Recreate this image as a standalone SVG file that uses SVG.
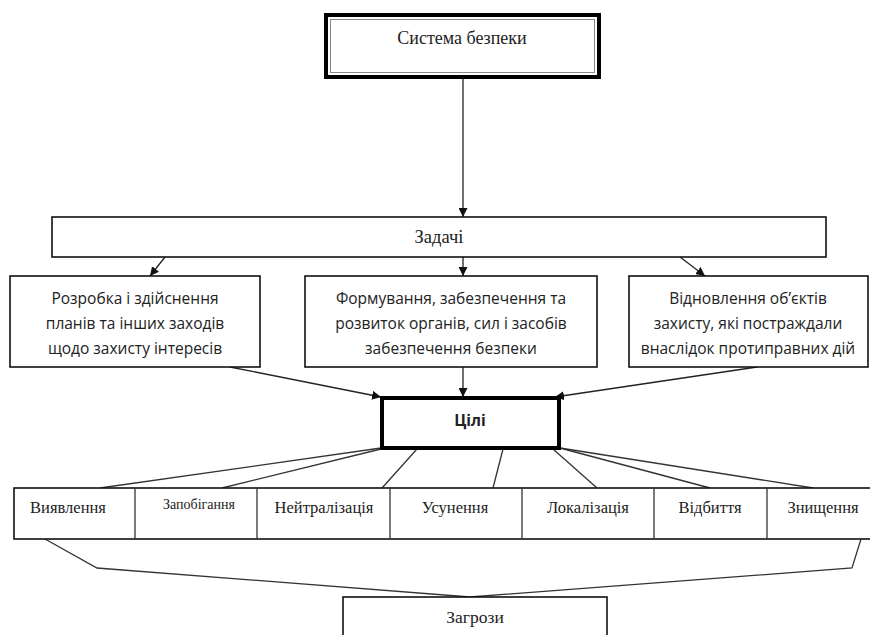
<svg xmlns="http://www.w3.org/2000/svg" width="870" height="635" viewBox="0 0 870 635">
<defs>
<marker id="ah" viewBox="0 0 10 10" refX="10" refY="5" markerWidth="9" markerHeight="9" markerUnits="userSpaceOnUse" orient="auto">
<path d="M0,0 L10,5 L0,10 z" fill="#111"/>
</marker>
<style>
.box{fill:#fff;stroke:#111;stroke-width:1.6}
.thick{fill:#fff;stroke:#000;stroke-width:4}
.serif{font-family:"Liberation Serif","Times New Roman",serif;fill:#222;text-anchor:middle}
.sans{font-family:"Open Sans","DejaVu Sans",sans-serif;fill:#222;text-anchor:middle;font-size:15.5px}
.ln{stroke:#333;stroke-width:1.3;fill:none}
.arr{stroke:#222;stroke-width:1.3;fill:none;marker-end:url(#ah)}
</style>
</defs>
<rect width="870" height="635" fill="#fff"/>
<g id="connectors">
<line class="arr" x1="463" y1="79" x2="463" y2="217"/>
<line class="arr" x1="165" y1="257" x2="150" y2="276"/>
<line class="arr" x1="463" y1="257" x2="463" y2="276"/>
<line class="arr" x1="680" y1="257" x2="705" y2="276"/>
<line class="arr" x1="230" y1="367" x2="381" y2="397"/>
<line class="arr" x1="463" y1="367" x2="463" y2="397"/>
<line class="arr" x1="757" y1="367" x2="555" y2="397"/>
<line class="ln" x1="381" y1="448" x2="100" y2="488"/>
<line class="ln" x1="381" y1="449" x2="222" y2="488"/>
<line class="ln" x1="417" y1="449" x2="382" y2="488"/>
<line class="ln" x1="503" y1="449" x2="493" y2="488"/>
<line class="ln" x1="553" y1="449" x2="597" y2="488"/>
<line class="ln" x1="560" y1="448" x2="710" y2="488"/>
<line class="ln" x1="560" y1="448" x2="813" y2="488"/>
<polyline class="ln" points="45,539 97,568 470,597"/>
<polyline class="ln" points="861,539 852,568 470,597"/>
</g>
<g id="system">
<rect x="326" y="15" width="273" height="62" fill="#fff" stroke="#000" stroke-width="4"/>
<rect x="330.5" y="19.5" width="264" height="53" fill="none" stroke="#888" stroke-width="1"/>
<text class="serif" x="462" y="44" font-size="18">Система безпеки</text>
</g>
<g id="tasks">
<rect class="box" x="52" y="217" width="774" height="40"/>
<text class="serif" x="439" y="243" font-size="18.5">Задачі</text>
</g>
<g id="task1">
<rect class="box" x="10" y="276" width="250" height="91"/>
<text class="sans" x="135" y="304">Розробка і здійснення</text>
<text class="sans" x="135" y="329">планів та інших заходів</text>
<text class="sans" x="135" y="354">щодо захисту інтересів</text>
</g>
<g id="task2">
<rect class="box" x="305" y="276" width="292" height="91"/>
<text class="sans" x="451" y="304">Формування, забезпечення та</text>
<text class="sans" x="451" y="329">розвиток органів, сил і засобів</text>
<text class="sans" x="451" y="354">забезпечення безпеки</text>
</g>
<g id="task3">
<rect class="box" x="629" y="276" width="239" height="91"/>
<text class="sans" x="748" y="304">Відновлення об’єктів</text>
<text class="sans" x="748" y="329">захисту, які постраждали</text>
<text class="sans" x="748" y="354">внаслідок протиправних дій</text>
</g>
<g id="goals">
<rect class="thick" x="382" y="398" width="177" height="50"/>
<text class="sans" x="470" y="426" font-weight="bold" font-size="16">Цілі</text>
</g>
<g id="row">
<rect class="box" x="14" y="488" width="858" height="51"/>
<line class="ln" x1="135" y1="488" x2="135" y2="539"/>
<line class="ln" x1="257" y1="488" x2="257" y2="539"/>
<line class="ln" x1="390" y1="488" x2="390" y2="539"/>
<line class="ln" x1="522" y1="488" x2="522" y2="539"/>
<line class="ln" x1="654" y1="488" x2="654" y2="539"/>
<line class="ln" x1="767" y1="488" x2="767" y2="539"/>
</g>
<g id="detect"><text class="serif" x="68" y="513" font-size="16.5">Виявлення</text></g>
<g id="prevent"><text class="serif" x="199" y="509" font-size="14">Запобігання</text></g>
<g id="neutralize"><text class="serif" x="324" y="513" font-size="16.5">Нейтралізація</text></g>
<g id="eliminate"><text class="serif" x="455" y="513" font-size="16.5">Усунення</text></g>
<g id="localize"><text class="serif" x="588" y="513" font-size="16.5">Локалізація</text></g>
<g id="repel"><text class="serif" x="710" y="513" font-size="16.5">Відбиття</text></g>
<g id="destroy"><text class="serif" x="823" y="513" font-size="16.5">Знищення</text></g>
<g id="threats">
<rect class="box" x="343" y="597" width="264" height="45"/>
<text class="serif" x="475" y="623" font-size="17.5">Загрози</text>
</g>
</svg>
